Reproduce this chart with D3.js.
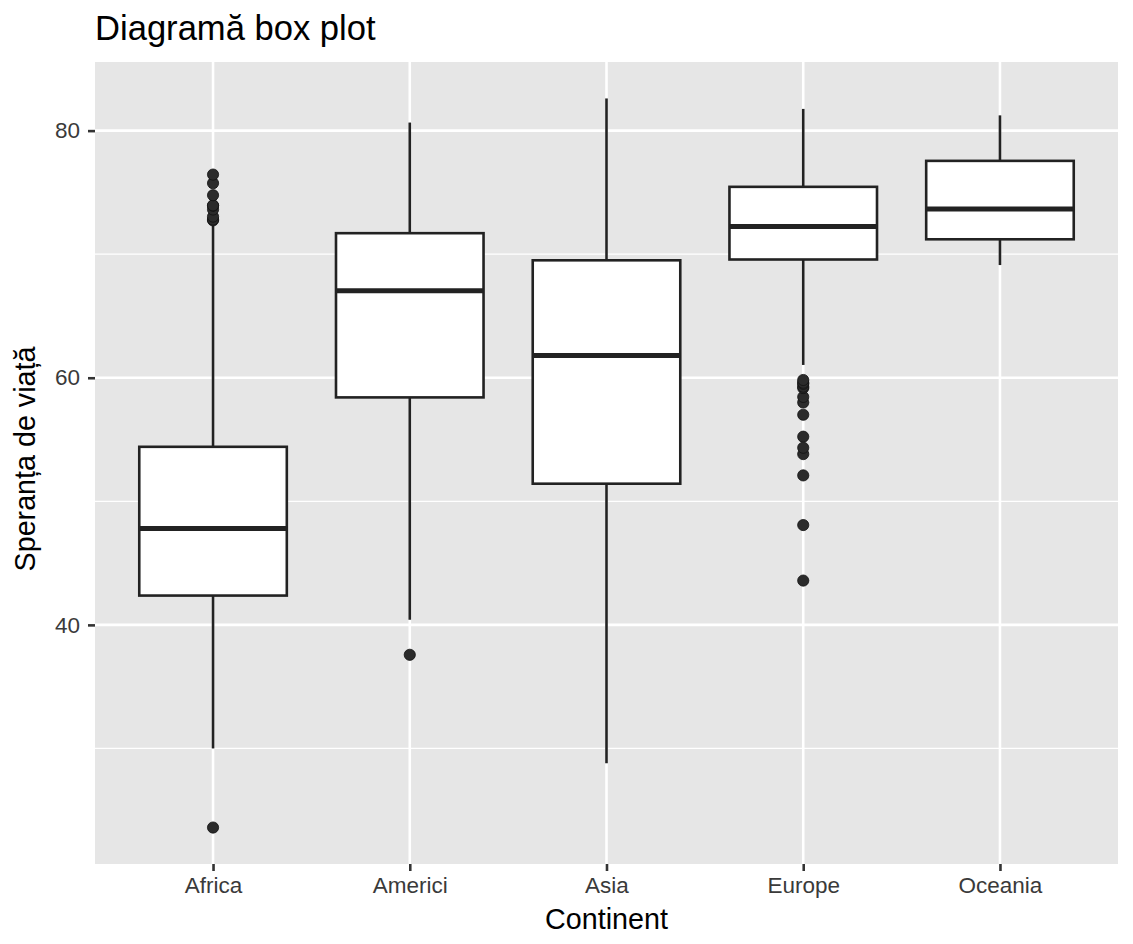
<!DOCTYPE html>
<html>
<head>
<meta charset="utf-8">
<script src="https://cdn.jsdelivr.net/npm/d3@7/dist/d3.min.js"></script>
<style>
  body { margin: 0; background: #fff; }
  svg { display: block; font-family: "Liberation Sans", Arial, Helvetica, sans-serif; }
</style>
</head>
<body>
<svg id="chart" width="1133" height="944"></svg>
<script>
const continents = ["Africa", "Americi", "Asia", "Europe", "Oceania"];
const whiskerLow = [30.0, 40.414, 28.801, 61.036, 69.12];
const q1 = [42.3725, 58.41, 51.426, 69.57, 71.205];
const median = [47.792, 67.048, 61.792, 72.241, 73.665];
const q3 = [54.4115, 71.6995, 69.505, 75.4505, 77.5525];
const whiskerHigh = [72.301, 80.653, 82.603, 81.757, 81.235];
const outliers = [
  [23.599, 72.737, 72.801, 73.042, 73.615, 73.923, 73.952, 74.772, 75.744, 76.442],
  [37.579],
  [],
  [43.585, 48.079, 52.098, 53.82, 54.336, 55.23, 57.005, 57.996, 58.45, 59.164, 59.28, 59.507, 59.6, 59.82],
  []
];
const yTicks = [40, 60, 80];
const yMinor = [30, 50, 70];
const titleText = "Diagramă box plot";
const xTitle = "Continent";
const yTitle = "Speranța de viață";

const svg = d3.select("#chart");
const P = { left: 95, right: 1118, top: 62, bottom: 864 };

const dataMin = 23.599, dataMax = 82.603;
const pad = (dataMax - dataMin) * 0.05;
const y = d3.scaleLinear().domain([dataMin - pad, dataMax + pad]).range([P.bottom, P.top]);
// ggplot discrete expansion: 0.6 units on each side of the 5 positions
const x = d3.scaleLinear().domain([0.4, continents.length + 0.6]).range([P.left, P.right]);
const cx = d => x(continents.indexOf(d) + 1);
const boxW = (x(1.75) - x(1));

const col = "#222222";
const bg = "#E6E6E6";

// panel background
svg.append("rect").attr("x", P.left).attr("y", P.top)
  .attr("width", P.right - P.left).attr("height", P.bottom - P.top).attr("fill", bg);

// minor grid
svg.append("g").selectAll("line").data(yMinor).join("line")
  .attr("x1", P.left).attr("x2", P.right)
  .attr("y1", d => y(d)).attr("y2", d => y(d))
  .attr("stroke", "#fff").attr("stroke-width", 1.3);
// major grid
svg.append("g").selectAll("line").data(yTicks).join("line")
  .attr("x1", P.left).attr("x2", P.right)
  .attr("y1", d => y(d)).attr("y2", d => y(d))
  .attr("stroke", "#fff").attr("stroke-width", 2.6);
svg.append("g").selectAll("line").data(continents).join("line")
  .attr("x1", d => cx(d)).attr("x2", d => cx(d))
  .attr("y1", P.top).attr("y2", P.bottom)
  .attr("stroke", "#fff").attr("stroke-width", 2.6);

const g = svg.append("g");
continents.forEach((c, i) => {
  const xc = cx(c);
  // whiskers
  g.append("line").attr("x1", xc).attr("x2", xc).attr("y1", y(q3[i])).attr("y2", y(whiskerHigh[i]))
    .attr("stroke", col).attr("stroke-width", 2.6);
  g.append("line").attr("x1", xc).attr("x2", xc).attr("y1", y(q1[i])).attr("y2", y(whiskerLow[i]))
    .attr("stroke", col).attr("stroke-width", 2.6);
  // box
  g.append("rect").attr("x", xc - boxW / 2).attr("width", boxW)
    .attr("y", y(q3[i])).attr("height", y(q1[i]) - y(q3[i]))
    .attr("fill", "#fff").attr("stroke", col).attr("stroke-width", 2.6);
  // median
  g.append("line").attr("x1", xc - boxW / 2).attr("x2", xc + boxW / 2)
    .attr("y1", y(median[i])).attr("y2", y(median[i]))
    .attr("stroke", col).attr("stroke-width", 5);
  // outliers
  g.append("g").selectAll("circle").data(outliers[i]).join("circle")
    .attr("cx", xc).attr("cy", d => y(d)).attr("r", 5.6)
    .attr("fill", "#2b2b2b").attr("stroke", "#111").attr("stroke-width", 0.8);
});

// axes
const tickCol = "#3a3a3a";
const yAxis = svg.append("g").attr("transform", `translate(${P.left},0)`)
  .call(d3.axisLeft(y).tickValues(yTicks).tickSize(7).tickPadding(8).tickFormat(d3.format("d")));
yAxis.select(".domain").remove();
yAxis.selectAll("line").attr("stroke", "#333").attr("stroke-width", 2.6);
yAxis.selectAll("text").attr("fill", tickCol).attr("font-size", 22.5).attr("font-family", null);

const xAxis = svg.append("g").attr("transform", `translate(0,${P.bottom})`)
  .call(d3.axisBottom(x).tickValues(continents.map((c, i) => i + 1))
    .tickFormat(d => continents[d - 1]).tickSize(7).tickPadding(6));
xAxis.select(".domain").remove();
xAxis.selectAll("line").attr("stroke", "#333").attr("stroke-width", 2.6);
xAxis.selectAll("text").attr("fill", tickCol).attr("font-size", 22.5).attr("font-family", null);

// titles
svg.append("text").attr("x", P.left).attr("y", 40).text(titleText)
  .attr("font-size", 34.6).attr("fill", "#000");
svg.append("text").attr("x", (P.left + P.right) / 2).attr("y", 929).attr("text-anchor", "middle")
  .text(xTitle).attr("font-size", 28.7).attr("fill", "#000");
svg.append("text").attr("transform", `translate(35,${(P.top + P.bottom) / 2 - 4}) rotate(-90)`)
  .attr("text-anchor", "middle").text(yTitle).attr("font-size", 28.7).attr("fill", "#000");
</script>
</body>
</html>
